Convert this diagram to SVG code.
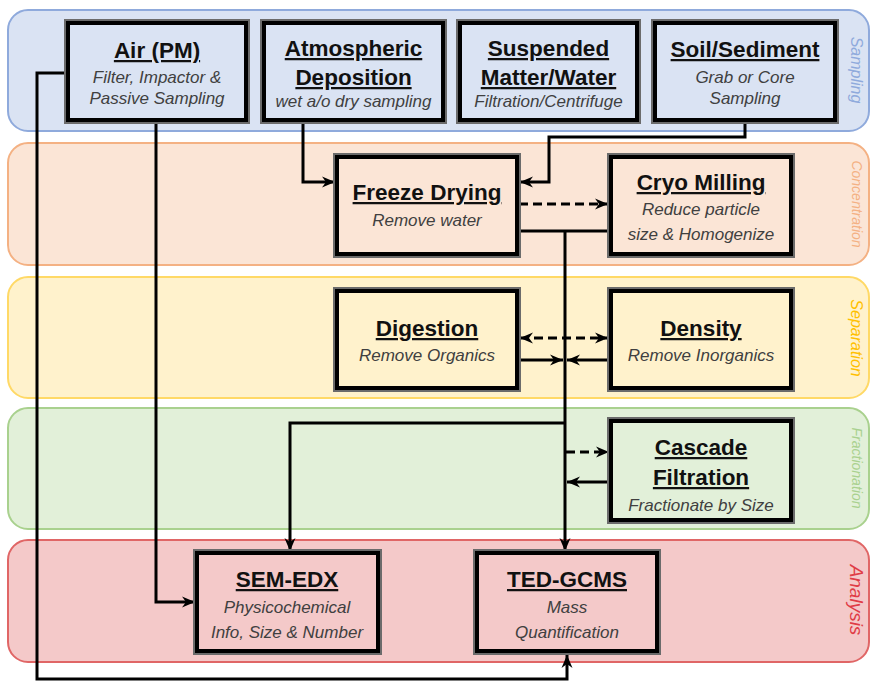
<svg xmlns="http://www.w3.org/2000/svg" width="874" height="682" viewBox="0 0 874 682">
<defs>
<marker id="ah" markerUnits="userSpaceOnUse" markerWidth="14" markerHeight="12" viewBox="0 0 14 12" refX="13" refY="6" orient="auto-start-reverse">
<path d="M0,0.5 L13,6 L0,11.5 L4,6 Z" fill="#000"/>
</marker>
<style>
.band{stroke-width:2}
.s{fill:#dae3f3;stroke:#8faadc}
.c{fill:#fbe5d6;stroke:#f4b183}
.p{fill:#fff2cc;stroke:#ffd966}
.f{fill:#e2f0d9;stroke:#a9d18e}
.a{fill:#f4c9c9;stroke:#e06666}
.halo{fill:none;stroke:#6b6b6b;stroke-width:8}
.box{stroke:#000;stroke-width:4}
.t{font-family:"Liberation Sans",Arial,sans-serif;font-weight:bold;font-size:22.5px;text-decoration:underline;fill:#111;text-anchor:middle}
.st{font-family:"Liberation Sans",Arial,sans-serif;font-style:italic;font-size:17px;fill:#404040;text-anchor:middle}
.lab{font-family:"Liberation Sans",Arial,sans-serif;font-style:italic;text-anchor:middle}
.ln{fill:none;stroke:#000;stroke-width:3}
.dash{stroke-dasharray:9 5}
</style>
</defs>

<g id="bands">
<rect class="band s" x="8" y="10" width="861" height="121" rx="20"/>
<rect class="band c" x="8" y="143" width="861" height="122" rx="20"/>
<rect class="band p" x="8" y="277" width="861" height="121" rx="20"/>
<rect class="band f" x="8" y="408" width="861" height="121" rx="20"/>
<rect class="band a" x="8" y="540" width="861" height="122" rx="20"/>
<text class="lab" transform="translate(851,70) rotate(90)" font-size="16" fill="#8faadc">Sampling</text>
<text class="lab" transform="translate(852,204) rotate(90)" font-size="14" fill="#f4b183">Concentration</text>
<text class="lab" transform="translate(851,338) rotate(90)" font-size="16" fill="#ffc000">Separation</text>
<text class="lab" transform="translate(852,468) rotate(90)" font-size="14" fill="#a9d18e">Fractionation</text>
<text class="lab" transform="translate(850,600) rotate(90)" font-size="19" fill="#e03c46">Analysis</text>
</g>

<g id="connectors">
<path class="ln" d="M68,73 H37 V679 H567 V655" marker-end="url(#ah)"/>
<path class="ln" d="M156,120 V602 H195" marker-end="url(#ah)"/>
<path class="ln" d="M303,120 V182 H335" marker-end="url(#ah)"/>
<path class="ln" d="M745,120 V137 H549 V182 H520" marker-end="url(#ah)"/>
<path class="ln dash" d="M519,204 H608" marker-end="url(#ah)"/>
<path class="ln" d="M519,231 H610"/>
<path class="ln" d="M565,231 V551" marker-end="url(#ah)"/>
<path class="ln dash" d="M520,338 H608" marker-start="url(#ah)" marker-end="url(#ah)"/>
<path class="ln" d="M519,360 H563" marker-end="url(#ah)"/>
<path class="ln" d="M610,360 H567" marker-end="url(#ah)"/>
<path class="ln" d="M565,423 H290 V551" marker-end="url(#ah)"/>
<path class="ln dash" d="M566,452 H609" marker-end="url(#ah)"/>
<path class="ln" d="M611,482 H567" marker-end="url(#ah)"/>
</g>

<g id="air">
<rect class="halo" x="68" y="23" width="178" height="97"/>
<rect class="box s" x="68" y="23" width="178" height="97"/>
<text class="t" x="157" y="58">Air (PM)</text>
<text class="st" x="157" y="83">Filter, Impactor &amp;</text>
<text class="st" x="157" y="104">Passive Sampling</text>
</g>
<g id="atmospheric">
<rect class="halo" x="264" y="23" width="179" height="97"/>
<rect class="box s" x="264" y="23" width="179" height="97"/>
<text class="t" x="353.5" y="56">Atmospheric</text>
<text class="t" x="353.5" y="85">Deposition</text>
<text class="st" x="353.5" y="107">wet a/o dry sampling</text>
</g>
<g id="suspended">
<rect class="halo" x="460" y="23" width="177" height="97"/>
<rect class="box s" x="460" y="23" width="177" height="97"/>
<text class="t" x="548.5" y="56">Suspended</text>
<text class="t" x="548.5" y="85">Matter/Water</text>
<text class="st" x="548.5" y="107">Filtration/Centrifuge</text>
</g>
<g id="soil">
<rect class="halo" x="655" y="23" width="180" height="97"/>
<rect class="box s" x="655" y="23" width="180" height="97"/>
<text class="t" x="745" y="57">Soil/Sediment</text>
<text class="st" x="745" y="83">Grab or Core</text>
<text class="st" x="745" y="104">Sampling</text>
</g>

<g id="freeze">
<rect class="halo" x="337" y="157" width="180" height="97"/>
<rect class="box c" x="337" y="157" width="180" height="97"/>
<text class="t" x="427" y="200">Freeze Drying</text>
<text class="st" x="427" y="226">Remove water</text>
</g>
<g id="cryo">
<rect class="halo" x="611" y="157" width="180" height="97"/>
<rect class="box c" x="611" y="157" width="180" height="97"/>
<text class="t" x="701" y="190">Cryo Milling</text>
<text class="st" x="701" y="215">Reduce particle</text>
<text class="st" x="701" y="240">size &amp; Homogenize</text>
</g>

<g id="digestion">
<rect class="halo" x="337" y="291" width="180" height="97"/>
<rect class="box p" x="337" y="291" width="180" height="97"/>
<text class="t" x="427" y="336">Digestion</text>
<text class="st" x="427" y="361">Remove Organics</text>
</g>
<g id="density">
<rect class="halo" x="611" y="291" width="180" height="97"/>
<rect class="box p" x="611" y="291" width="180" height="97"/>
<text class="t" x="701" y="336">Density</text>
<text class="st" x="701" y="361">Remove Inorganics</text>
</g>

<g id="cascade">
<rect class="halo" x="611" y="421" width="180" height="99"/>
<rect class="box f" x="611" y="421" width="180" height="99"/>
<text class="t" x="701" y="455">Cascade</text>
<text class="t" x="701" y="485">Filtration</text>
<text class="st" x="701" y="511">Fractionate by Size</text>
</g>

<g id="semedx">
<rect class="halo" x="197" y="553" width="181" height="98"/>
<rect class="box a" x="197" y="553" width="181" height="98"/>
<text class="t" x="287" y="587">SEM-EDX</text>
<text class="st" x="287" y="613">Physicochemical</text>
<text class="st" x="287" y="638">Info, Size &amp; Number</text>
</g>
<g id="tedgcms">
<rect class="halo" x="477" y="553" width="180" height="98"/>
<rect class="box a" x="477" y="553" width="180" height="98"/>
<text class="t" x="567" y="587">TED-GCMS</text>
<text class="st" x="567" y="613">Mass</text>
<text class="st" x="567" y="638">Quantification</text>
</g>
</svg>
